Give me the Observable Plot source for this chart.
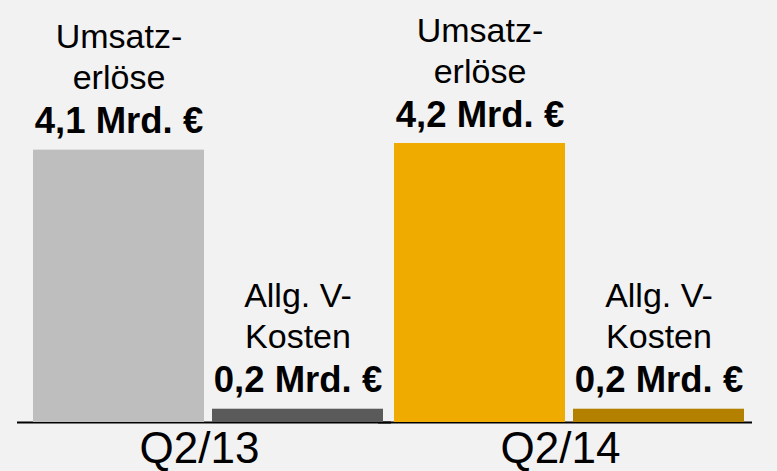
<!DOCTYPE html>
<html>
<head>
<meta charset="utf-8">
<script src="https://cdn.jsdelivr.net/npm/d3@7"></script>
<script src="https://cdn.jsdelivr.net/npm/@observablehq/plot@0.6"></script>
<style>
  html, body { margin: 0; padding: 0; background: #f2f2f2; }
  #chart { width: 777px; height: 471px; }
</style>
</head>
<body>
<div id="chart"></div>
<script>
const quarters = ["Q2/13", "Q2/13", "Q2/14", "Q2/14"];
const items = ["Umsatzerlöse", "Allg. V-Kosten", "Umsatzerlöse", "Allg. V-Kosten"];
const labels = ["Umsatz-\nerlöse", "Allg. V-\nKosten", "Umsatz-\nerlöse", "Allg. V-\nKosten"];
const values = [4.1, 0.2, 4.2, 0.2];
const valueLabels = ["4,1 Mrd. €", "0,2 Mrd. €", "4,2 Mrd. €", "0,2 Mrd. €"];
const colors = ["#bebebe", "#5a5a5a", "#f0ab00", "#b38000"];
const quarterDomain = ["Q2/13", "Q2/14"];
const itemDomain = ["Umsatzerlöse", "Allg. V-Kosten"];

const data = quarters.map((q, i) => ({
  quarter: q, item: items[i], label: labels[i], value: values[i],
  valueLabel: valueLabels[i], color: colors[i]
}));

const chart = Plot.plot({
  width: 777,
  height: 471,
  marginTop: 143,
  marginBottom: 49,
  marginLeft: 32,
  marginRight: 32,
  style: { background: "#f2f2f2", fontFamily: "'Liberation Sans', Arial, sans-serif", color: "black" },
  fx: { domain: quarterDomain, paddingInner: 0.025, paddingOuter: 0, label: null },
  x: { domain: itemDomain, paddingInner: 0.044, paddingOuter: 0, axis: null },
  y: { domain: [0, 4.2], axis: null },
  color: { type: "identity" },
  marks: [
    Plot.ruleY([0], { stroke: "black", strokeWidth: 2, insetLeft: -15, insetRight: -7 }),
    Plot.barY(data, { fx: "quarter", x: "item", y: "value", fill: "color" }),
    Plot.text(data, {
      fx: "quarter", x: "item", y: "value", text: "valueLabel",
      fontSize: 36.5, fontWeight: "bold", lineAnchor: "bottom", dy: -17, fill: "black"
    }),
    Plot.text(data, {
      fx: "quarter", x: "item", y: "value", text: "label",
      fontSize: 34, lineAnchor: "bottom", lineHeight: 1.2, dy: -61, fill: "black"
    }),
    Plot.axisFx({ anchor: "bottom", tickSize: 0, tickPadding: 9, fontSize: 44, dx: -9, label: null, fill: "black" })
  ]
});
document.getElementById("chart").appendChild(chart);
</script>
</body>
</html>
